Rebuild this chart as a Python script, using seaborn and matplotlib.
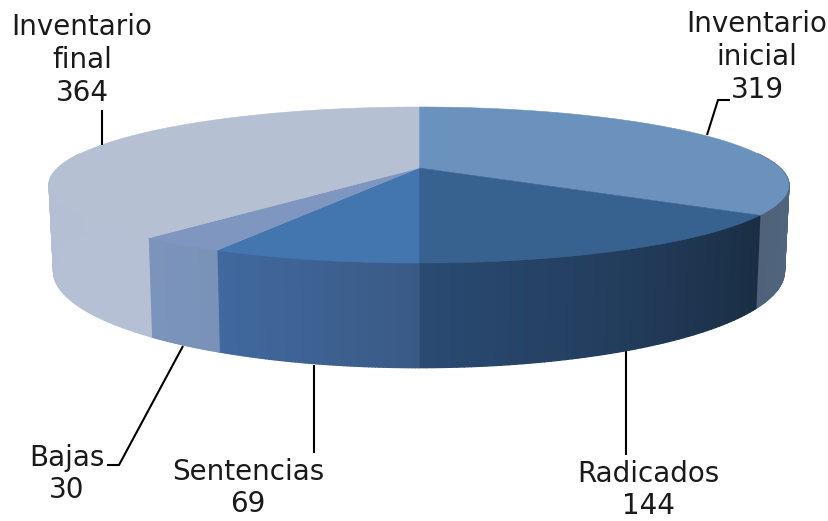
import numpy as np
import matplotlib
matplotlib.use("Agg")
import matplotlib.pyplot as plt
from matplotlib.collections import PolyCollection
from matplotlib.colors import to_rgb
from matplotlib.patches import Polygon
import seaborn as sns

categories = ["Inventario\ninicial", "Radicados", "Sentencias", "Bajas", "Inventario\nfinal"]
values = [319, 144, 69, 30, 364]
top_colors = ["#6b91bd", "#37628f", "#4376ae", "#7f97c0", "#b5c0d3"]
side_start = ["#556a84", "#1a2d43", "#3a5a85", "#7a92b8", "#b5c0d4"]
side_end = ["#4f627a", "#2a4a72", "#41699f", "#7b94bb", "#b4bfd3"]

sns.set_theme(style="white")
plt.rcParams["font.family"] = ["DejaVu Sans"]

CX, CY, R, H, K = 419.0, 168.0, 361.0, 74.3, 0.218


def project(theta):
    X, Y = np.sin(theta), -np.cos(theta)
    s = 1.0 / (1.0 - K * Y)
    return CX + R * X * s, CY + H * Y * s, Y * s


def project_bottom(theta):
    x, _, ys = project(theta)
    return CX + (x - CX) * 0.988, 250.0 + 92.0 * ys


fig = plt.figure(figsize=(8.29, 5.21), dpi=100)
ax = fig.add_axes([0, 0, 1, 1])
ax.set_xlim(0, 829)
ax.set_ylim(521, 0)
ax.axis("off")

edges = 2 * np.pi * np.concatenate([[0], np.cumsum(values)]) / np.sum(values)
limit = np.arccos(K)
vis_lo, vis_hi = limit + 0.02, 2 * np.pi - limit - 0.02

for i in range(len(values)):
    th = np.linspace(edges[i], edges[i + 1], 200)
    x, y, _ = project(th)
    pts = np.column_stack([np.r_[CX, x], np.r_[CY, y]])
    ax.add_patch(Polygon(pts, closed=True, facecolor=top_colors[i],
                         edgecolor=top_colors[i], lw=0.4, zorder=2))

    a, b = max(edges[i], vis_lo), min(edges[i + 1], vis_hi)
    if b <= a:
        continue
    th = np.linspace(a, b, 60)
    xt, yt, _ = project(th)
    xb, yb = project_bottom(th)
    quads, cols = [], []
    c0, c1 = np.array(to_rgb(side_start[i])), np.array(to_rgb(side_end[i]))
    for j in range(len(th) - 1):
        quads.append([(xt[j], yt[j]), (xt[j + 1], yt[j + 1]),
                      (xb[j + 1], yb[j + 1]), (xb[j], yb[j])])
        cols.append(c0 + (c1 - c0) * j / (len(th) - 2))
    ax.add_collection(PolyCollection(quads, facecolors=cols, edgecolors=cols,
                                     linewidths=1.0, zorder=1.5))

leaders = [
    ([707, 718, 730], [135, 100, 100]),
    ([626, 626], [351, 455]),
    ([314, 314], [365, 453]),
    ([183, 119, 107], [346, 465, 465]),
    ([102, 102], [145, 110]),
]
for lx, ly in leaders:
    ax.plot(lx, ly, color="black", lw=1.5, zorder=3, solid_capstyle="butt")

label_xy = [(757, 57), (648, 490), (248, 488), (67, 474), (82, 60)]
for name, val, (tx, ty) in zip(categories, values, label_xy):
    ax.text(tx, ty, f"{name}\n{val}", ha="center", va="center", fontsize=20,
            color="#1a1a1a", linespacing=1.22, zorder=4)

fig.savefig("out.png", dpi=100)
